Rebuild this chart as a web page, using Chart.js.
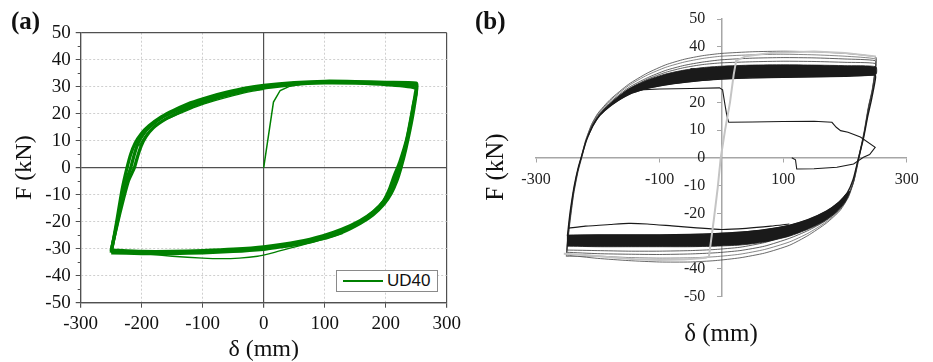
<!DOCTYPE html>
<html>
<head>
<meta charset="utf-8">
<script src="https://cdn.jsdelivr.net/npm/chart.js@4.4.0/dist/chart.umd.min.js"></script>
<style>
body { margin: 0; background: #fff; width: 933px; height: 362px; overflow: hidden; position: relative; }
.panel { position: absolute; top: 0; }
.tag { position: absolute; font: bold 25px 'Liberation Serif', serif; color: #111; }
.ttl { position: absolute; font: 25px 'Liberation Serif', serif; color: #111; white-space: nowrap; }
#legendA { position: absolute; left: 336px; top: 270px; width: 100px; height: 20px; border: 1px solid #8a8a8a; background: #fff; }
#legendA .swatch { position: absolute; left: 6px; top: 9px; width: 40px; border-top: 2px solid #008000; }
#legendA .txt { position: absolute; left: 50px; top: 0; line-height: 21px; font: 17px 'Liberation Sans', sans-serif; color: #111; }
</style>
</head>
<body>
<div class="panel" style="left:0"><canvas id="chartA" width="470" height="362"></canvas></div>
<div class="panel" style="left:470px"><canvas id="chartB" width="463" height="362"></canvas></div>
<div class="tag" style="left:11px;top:7px">(a)</div>
<div class="tag" style="left:475px;top:7px">(b)</div>
<div class="ttl" style="left:495px;top:167px;transform:translate(-50%,-50%) rotate(-90deg)">F (kN)</div>
<div class="ttl" style="left:721px;top:333px;transform:translate(-50%,-50%)">δ (mm)</div>
<div id="legendA"><span class="swatch"></span><span class="txt"></span></div>
<script>
// ---- panel (a): UD40 test, cycles ----
const seriesA = 'UD40';
const greenA = '#008000';

const loopA1 = [[-250,-31.5],[-241,-20],[-232,-8],[-224,0],[-218,5],[-211,9],[-201,12.5],[-188,15.5],[-168,18.8],[-148,21.2],[-120,24],[-90,26.2],[-60,28],[-30,29.5],[0,30.5],[50,31.5],[100,32],[150,31.9],[200,31.6],[250,31.3],
  [251,29.5],[244,19],[233,7],[225,0],[218,-5],[209,-9.5],[197,-13.5],[179,-17.5],[159,-20.5],[130,-23.8],[100,-26],[60,-28.2],[20,-29.6],[0,-30.2],[-50,-31],[-100,-31.5],[-150,-31.8],[-200,-31.8],[-250,-31.5]];
const loopA2 = [[-250,-31],[-238,-18],[-227,-6],[-218,0],[-212,5],[-206,9],[-197,12.5],[-185,15.5],[-165,18.8],[-145,21],[-115,23.8],[-85,26],[-55,27.8],[-25,29.2],[0,30],[50,31.2],[100,31.7],[150,31.6],[200,31.3],[250,30.5],
  [249,28],[240,16],[228,4],[220,-1],[213,-6],[204,-10],[191,-14],[171,-18],[150,-21],[120,-24],[90,-26],[50,-28.2],[0,-29.8],[-50,-30.6],[-100,-31.1],[-150,-31.3],[-200,-31.3],[-250,-31]];
const loopA3 = [[-250,-30.5],[-236,-17],[-222,-5],[-212,0],[-207,4],[-201,8],[-193,11.5],[-181,14.8],[-161,18],[-141,20.3],[-111,23.2],[-81,25.5],[-51,27.3],[-21,28.9],[0,29.5],[50,30.9],[100,31.4],[150,31.3],[200,30.8],[250,29.3],
  [246,24],[235,11],[223,2],[214,-3],[206,-8],[196,-12.5],[180,-16.2],[158,-19.6],[128,-22.8],[97,-25.2],[57,-27.4],[0,-29.3],[-50,-30.2],[-100,-30.7],[-150,-31],[-200,-31],[-250,-30.5]];
const upperThinA = [[-205,8],[-190,13],[-170,16.8],[-140,19.8],[-110,22.6],[-80,24.8],[-50,26.7],[-20,28.3],[0,29]];
const lowerThinA = [[-200,-31.8],[-150,-32.8],[-100,-33.5],[-70,-33.7],[-40,-33.5],[-10,-32.8],[10,-31.8],[40,-30],[70,-28.2],[100,-26.5],[130,-24.3]];
const firstLoadA = [[0,0],[16,24.3],[27,28.6],[43,30.2],[60,30.8]];
const yMinorA = [-45,-35,-25,-15,-5,5,15,25,35,45];

// ---- panel (b): black cycles, grey monotonic path, thin black path ----
const xTicksB = [-300,-100,100,300];
const outerB = [[-251,-35],[-247,-25],[-240,-13],[-233,-5],[-227,0],[-220,6],[-210,12],[-200,16],[-180,21],[-150,26.5],[-120,30.5],[-90,33.5],[-60,35.5],[-30,36.8],[0,37.6],[50,38.2],[100,38.4],[150,38.2],[200,37.6],[250,36.3],
  [250,34],[245,25],[239,19],[232,10],[223,0],[215,-8],[206,-14],[192,-19],[170,-23.5],[140,-28],[110,-31.5],[70,-34.3],[30,-36],[-10,-37],[-50,-37.5],[-100,-37.5],[-150,-37],[-200,-36.2],[-251,-35]];
const nearOuterB = [[-251,-35.5],[-247,-25],[-240,-13],[-233,-5],[-227,0],[-220,6],[-210,12],[-199,16],[-179,20.8],[-150,26],[-120,29.8],[-90,32.6],[-60,34.5],[-30,35.8],[0,36.6],[50,37.1],[100,37.3],[150,37.1],[200,36.6],[250,35.6],
  [250,33.5],[244,24.5],[238,18.5],[231,9.5],[222,0],[214,-8.2],[205,-14.2],[191,-18.9],[169,-23.2],[140,-27.2],[110,-30.3],[70,-33],[30,-34.7],[-10,-35.6],[-50,-36],[-100,-36.1],[-150,-35.9],[-200,-35.4],[-251,-35.5]];
const midB = [[-250,-34],[-246,-25],[-239,-13],[-232,-5],[-226,0],[-219,6],[-209,11.8],[-198,15.8],[-178,20.4],[-150,25.3],[-120,28.8],[-90,31.5],[-60,33.3],[-30,34.5],[0,35.3],[50,35.9],[100,36.1],[150,36],[200,35.6],[249,35],
  [250,33],[244,24],[238,18],[231,9],[222,0],[214,-8.5],[204,-14.5],[190,-18.8],[168,-22.8],[140,-26.2],[110,-29],[70,-31.8],[30,-33.4],[-10,-34.2],[-50,-34.6],[-100,-34.8],[-150,-34.7],[-200,-34.5],[-250,-34]];
const nearInnerB = [[-250,-33.2],[-246,-24],[-239,-12.5],[-232,-4.5],[-226,0.5],[-219,6.2],[-209,11.6],[-198,15.5],[-178,20],[-150,24.8],[-120,28.3],[-90,30.8],[-60,32.5],[-30,33.6],[0,34.2],[50,34.6],[100,34.8],[150,34.7],[200,34.4],[249,34],
  [250,32],[244,23.5],[238,17.5],[231,8.5],[222,-0.5],[214,-8.7],[204,-14],[190,-18],[168,-22],[140,-25.3],[110,-27.8],[70,-30.5],[30,-32.2],[-10,-33],[-50,-33.4],[-100,-33.6],[-150,-33.6],[-200,-33.4],[-250,-33.2]];
const innerB = [[-249,-28],[-245,-20],[-238,-10],[-231,-3],[-225,1.5],[-218,6.5],[-208,11.5],[-197,15.2],[-178,19],[-150,22.8],[-120,25],[-90,26.3],[-60,27.2],[-30,27.9],[0,28.4],[50,28.8],[100,29],[150,29.2],[200,29.4],[249,29.8],
  [249,28],[243,21],[237,15],[230,7],[221,-1],[213,-8],[204,-12.5],[190,-16],[170,-19.2],[140,-22.3],[110,-24.3],[70,-25.9],[30,-26.8],[-10,-27.3],[-50,-27.6],[-100,-27.8],[-150,-27.8],[-200,-27.8],[-249,-28]];
const coreTopB = [[-215,8],[-205,13],[-190,17.5],[-170,21.5],[-150,24.8],[-120,28],[-90,30.2],[-60,31.6],[-30,32.5],[0,33],[50,33.4],[100,33.5],[150,33.4],[200,33.2],[250,32.8],
  [250,30],[200,29.4],[150,29.2],[100,29],[50,28.8],[0,28.4],[-30,27.9],[-60,27.2],[-90,26.3],[-120,25],[-150,22.8],[-178,19],[-197,15.2],[-208,11.5]];
const coreBottomB = [[-250,-27.8],[-200,-27.8],[-150,-27.8],[-100,-27.8],[-50,-27.6],[-10,-27.3],[30,-26.8],[70,-25.9],[110,-24.3],[140,-22.3],[170,-19.2],[190,-16],[204,-12.5],[208,-12],
  [200,-16],[185,-19.8],[165,-23],[140,-25.7],[110,-28.2],[70,-30.3],[30,-31.4],[-10,-31.8],[-50,-32],[-100,-32],[-150,-32],[-200,-32],[-250,-31.8]];
const pathB = [[-150,24.3],[-100,24.8],[-50,25],[-3,25.2],[2,24.5],[6,19],[9,15],[12,12.8],[50,12.9],[100,13.1],[150,13.2],[179,12.8],[186,11],[193,9.8],[205,9.2],[225,7.5],[249,3.8],[240,1.2],[230,0.2],[214,-2.2],[187,-3.4],[150,-3.9],[122,-4],[120,-0.7],[114,0]];
const lowThinB = [[-247,-25.3],[-220,-24.6],[-180,-24],[-150,-23.6],[-120,-23.8],[-80,-24.5],[-40,-25.2],[0,-25.8],[40,-25.4],[80,-24.6],[110,-23.8]];
const greyB = [[-255,-34.5],[-220,-35],[-180,-35.8],[-140,-36.5],[-100,-36.8],[-60,-36.6],[-25,-36],[-20,-35.5],[-12,-22],[-6,-11],[-1,0],[6,10],[14,20],[20,30],[24,35],[40,36.6],[80,37.8],[150,38.3],[200,37.8],[250,36.5]];

function pts(pairs) {
    return pairs.map(p => ({ x: p[0], y: p[1] }));
}
function line(pairs, color, width, tension) {
    return { data: pts(pairs), borderColor: color, borderWidth: width, pointRadius: 0, tension: tension, fill: false };
}

const serif = 'Liberation Serif';
const darkA = '#505050';
const isEdge = (v, s) => v === 0 || v === s.min || v === s.max;

const minorTicks = {
    id: 'minorTicks',
    afterDraw(chart) {
        const y = chart.scales.y;
        const ctx = chart.ctx;
        ctx.save();
        ctx.strokeStyle = darkA;
        ctx.lineWidth = 1;
        for (const v of yMinorA) {
            const py = Math.round(y.getPixelForValue(v)) + 0.5;
            ctx.beginPath();
            ctx.moveTo(chart.chartArea.left - 3, py);
            ctx.lineTo(chart.chartArea.left, py);
            ctx.stroke();
        }
        ctx.restore();
    }
};

function axisA(min, max, step, title, titlePad, extra) {
    return Object.assign({
        type: 'linear', min: min, max: max,
        ticks: { stepSize: step, color: '#111', font: { family: serif, size: 19 }, maxRotation: 0, padding: 5 },
        grid: {
            color: c => isEdge(c.tick.value, c.scale) ? darkA : '#cfcfcf',
            lineWidth: c => isEdge(c.tick.value, c.scale) ? 1.2 : 1,
            tickColor: darkA, tickLength: 5
        },
        border: { color: darkA, width: 1.2, dash: c => (c.tick && !isEdge(c.tick.value, c.scale)) ? [2, 2] : [] },
        title: { display: true, text: title, color: '#111', font: { family: serif, size: 24, lineHeight: 1 }, padding: titlePad }
    }, extra);
}

new Chart(document.getElementById('chartA'), {
    type: 'line',
    data: {
        datasets: [
            Object.assign(line(loopA1, greenA, 3.3, 0.2), { label: seriesA }),
            line(loopA2, greenA, 3.3, 0.2),
            line(loopA3, greenA, 3.3, 0.2),
            line(upperThinA, greenA, 1.3, 0.2),
            line(lowerThinA, greenA, 1.3, 0.2),
            line(firstLoadA, greenA, 1.5, 0)
        ]
    },
    options: {
        responsive: false,
        animation: false,
        layout: { padding: { left: 0, right: 23.3, top: 32.7, bottom: 0 } },
        plugins: { legend: { display: false }, tooltip: { enabled: false } },
        scales: {
            x: axisA(-300, 300, 100, 'δ (mm)', { top: 0, bottom: 0 }, { afterFit: s => { s.height = 59.3; } }),
            y: axisA(-50, 50, 10, 'F (kN)', { top: 13, bottom: 0 }, { afterFit: s => { s.width = 80.7; } })
        }
    },
    plugins: [minorTicks]
});
document.querySelector('#legendA .txt').textContent = seriesA;
document.querySelector('#legendA .swatch').style.borderTopColor = greenA;

const ink = '#1a1a1a';
const axisGrey = '#a6a6a6';
new Chart(document.getElementById('chartB'), {
    type: 'line',
    data: {
        datasets: [
            line(greyB, '#c4c4c4', 2, 0),
            line(pathB, ink, 1.1, 0),
            line(lowThinB, ink, 1.1, 0.2),
            Object.assign(line(coreTopB, ink, 0.8, 0.2), { fill: 'shape', backgroundColor: ink }),
            Object.assign(line(coreBottomB, ink, 0.8, 0.2), { fill: 'shape', backgroundColor: ink }),
            line(innerB, ink, 1.4, 0.2),
            line(nearInnerB, '#3a3a3a', 0.8, 0.2),
            line(midB, '#3a3a3a', 0.8, 0.2),
            line(nearOuterB, '#555', 0.7, 0.2),
            line(outerB, '#444', 0.8, 0.2)
        ]
    },
    options: {
        responsive: false,
        animation: false,
        layout: { padding: { left: 66, right: 26.3, top: 19, bottom: 65.3 } },
        plugins: { legend: { display: false }, tooltip: { enabled: false } },
        scales: {
            x: {
                type: 'linear', min: -300, max: 300, position: { y: 0 },
                afterBuildTicks: s => { s.ticks = xTicksB.map(v => ({ value: v })); },
                ticks: { color: '#222', font: { family: serif, size: 16 }, padding: 8, maxRotation: 0, autoSkip: false },
                grid: { drawOnChartArea: false, tickLength: 4, color: axisGrey, tickColor: axisGrey },
                border: { color: axisGrey, width: 1.5 }
            },
            y: {
                type: 'linear', min: -50, max: 50, position: { x: 0 },
                // centred axis puts labels right on the line, so pad them with trailing spaces
                ticks: { stepSize: 10, color: '#222', font: { family: serif, size: 16 }, callback: v => v + '    ' },
                grid: { drawOnChartArea: false, tickLength: 4, color: axisGrey, tickColor: axisGrey },
                border: { color: axisGrey, width: 1.5 }
            }
        }
    }
});
</script>
</body>
</html>
